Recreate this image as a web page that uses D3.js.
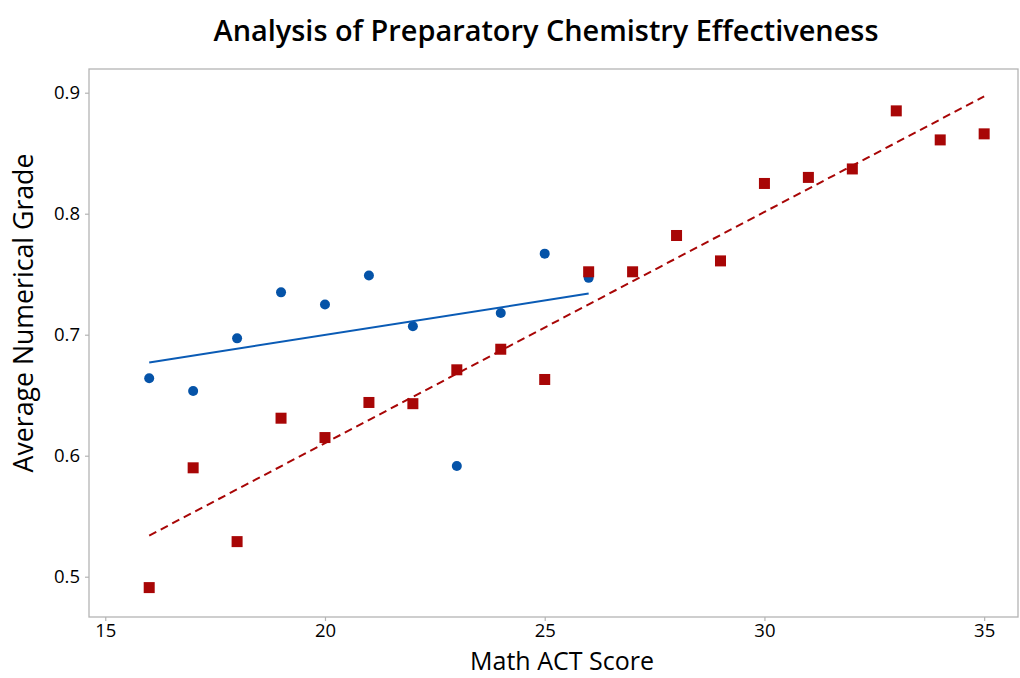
<!DOCTYPE html>
<html>
<head>
<meta charset="utf-8">
<script src="https://cdn.jsdelivr.net/npm/d3@7"></script>
<style>
body { margin: 0; background: #fff; }
text { font-family: "Open Sans", "Noto Sans", sans-serif; fill: #000; }
</style>
</head>
<body>
<script>
var actScores = [16, 17, 18, 19, 20, 21, 22, 23, 24, 25, 26, 27, 28, 29, 30, 31, 32, 33, 34, 35];

// blue circles (x 16..26)
var blueGrades = [0.664, 0.6535, 0.697, 0.735, 0.725, 0.749, 0.707, 0.5915, 0.718, 0.767, 0.747];
// red squares (x 16..35)
var redGrades = [0.491, 0.590, 0.529, 0.631, 0.615, 0.644, 0.643, 0.671, 0.688, 0.663,
                 0.752, 0.752, 0.782, 0.761, 0.825, 0.830, 0.837, 0.885, 0.861, 0.866];

// fitted lines, endpoints
var blueFit = [[16, 0.677], [26, 0.734]];
var redFit = [[16, 0.534], [35, 0.897]];

var xTicks = [15, 20, 25, 30, 35];
var yTicks = [0.5, 0.6, 0.7, 0.8, 0.9];

var W = 1020, H = 678;
var mLeft = 89, mRight = 1018, mTop = 69, mBottom = 617;

var svg = d3.select("body").append("svg")
    .attr("width", W)
    .attr("height", H);

var x = d3.scaleLinear().domain([14.63, 35.77]).range([mLeft, mRight]);
var y = d3.scaleLinear().domain([0.4667, 0.9196]).range([mBottom, mTop]);

// frame
svg.append("rect")
    .attr("x", mLeft).attr("y", mTop)
    .attr("width", mRight - mLeft).attr("height", mBottom - mTop)
    .attr("fill", "none").attr("stroke", "#b4b4b4").attr("stroke-width", 1.3);

var xAxis = svg.append("g")
    .attr("transform", "translate(0," + mBottom + ")")
    .call(d3.axisBottom(x).tickValues(xTicks).tickSize(4).tickPadding(3).tickFormat(d3.format("d")));
var yAxis = svg.append("g")
    .attr("transform", "translate(" + mLeft + ",0)")
    .call(d3.axisLeft(y).tickValues(yTicks).tickSize(4).tickPadding(5).tickFormat(d3.format(".1f")));

[xAxis, yAxis].forEach(function (g) {
    g.select(".domain").remove();
    g.selectAll(".tick line").attr("stroke", "#b4b4b4").attr("stroke-width", 1.2);
    g.selectAll(".tick text").style("font-size", "18.5px").attr("fill", "#000");
});

// points
var blueColor = "#0553a8", redColor = "#a80606";

svg.append("g").selectAll("circle")
    .data(blueGrades)
    .enter().append("circle")
    .attr("cx", function (d, i) { return x(actScores[i]); })
    .attr("cy", function (d) { return y(d); })
    .attr("r", 5)
    .attr("fill", blueColor);

var sq = 11;
svg.append("g").selectAll("rect")
    .data(redGrades)
    .enter().append("rect")
    .attr("x", function (d, i) { return x(actScores[i]) - sq / 2; })
    .attr("y", function (d) { return y(d) - sq / 2; })
    .attr("width", sq)
    .attr("height", sq)
    .attr("fill", redColor);

// fit lines
var line = d3.line().x(function (d) { return x(d[0]); }).y(function (d) { return y(d[1]); });

svg.append("path")
    .attr("d", line(blueFit))
    .attr("fill", "none")
    .attr("stroke", "#0a5bb5")
    .attr("stroke-width", 2);

svg.append("path")
    .attr("d", line(redFit))
    .attr("fill", "none")
    .attr("stroke", redColor)
    .attr("stroke-width", 2)
    .attr("stroke-dasharray", "8,5");

// titles
svg.append("text")
    .attr("x", 546).attr("y", 41)
    .attr("text-anchor", "middle")
    .style("font-size", "28.9px").style("font-weight", "600")
    .text("Analysis of Preparatory Chemistry Effectiveness");

svg.append("text")
    .attr("x", 562).attr("y", 670)
    .attr("text-anchor", "middle")
    .style("font-size", "25px")
    .text("Math ACT Score");

svg.append("text")
    .attr("transform", "translate(33,313) rotate(-90)")
    .attr("text-anchor", "middle")
    .style("font-size", "26.7px")
    .text("Average Numerical Grade");
</script>
</body>
</html>
